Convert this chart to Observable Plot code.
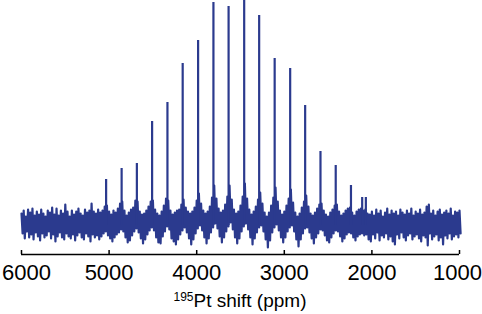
<!DOCTYPE html>
<html><head><meta charset="utf-8">
<script src="https://cdn.jsdelivr.net/npm/d3@7"></script>
<script src="https://cdn.jsdelivr.net/npm/@observablehq/plot@0.6"></script>
<style>html,body{margin:0;padding:0;background:#fff;} #chart svg{display:block}</style>
</head><body><div id="chart"></div>
<script>
// x-axis ticks (ppm)
const xTicks = [6000, 5000, 4000, 3000, 2000, 1000];

// spinning sideband peaks: position (ppm) and apex intensity (a.u., baseline = 0)
const peakPpm    = [5034, 4857, 4683, 4509, 4334, 4160, 3984, 3809, 3636, 3458, 3287, 3110, 2933, 2762, 2587, 2413, 2239, 2111, 2069];
const peakHeight = [  46,   57,   62,  104,  123,  162,  185,  223,  219,  225,  210,  167,  157,  120,   74,   60,   40,   28,   28];

// noisy baseline: upper and lower excursions, sampled every 25 ppm from 6000 down to 1000 ppm
const noiseStartPpm = 6000;
const noiseStepPpm = 25;
const noiseUpper = [
  12,15,9,16,13,17,10,14,11,16, 12,9,15,13,18,11,17,10,15,12, 21,14,9,15,11,14,17,12,10,16, 13,15,22,14,12,16,
  13,15,19,20,14,11,15,13,17,22, 24,15,10,13,16,18,25,24,14,11, 12,15,19,24,25,16,12,10,14,20, 27,25,15,11,13,
  15,16,21,26,18,14,12, 14,18,25,32,22,15,12, 14,19,28,40,27,17,13, 15,21,29,40,26,16,12,
  14,20,29,42,27,16,11, 14,19,26,33,22,13,9, 13,20,28,38,24,15,11, 14,20,27,36,23,13,9,
  12,18,24,30,19,12,10, 13,17,21,22,15,11,9, 13,16,20,21,14,10,12, 15,17,18,13,10,14,16, 17,15,16,12,11,
  14,10,16,12,15,9,13,17,11,15, 12,14,10,16,13,11,15,12,17,10, 14,12,16,11,13,19,21,12,15,10, 14,16,11,13,15,12,17,10,14,13, 15
];
const noiseLower = [
  -8,-13,-6,-12,-9,-14,-7,-11,-15,-8, -12,-10,-6,-13,-9,-16,-11,-7,-12,-14, -8,-11,-13,-9,-15,-10,-7,-12,-14,-8, -11,-16,-9,-12,-10,-14,
  -11,-8,-6,-10,-13,-16,-12,-9,-7,-4, -6,-12,-17,-15,-10,-6,-3,-7,-13,-18, -14,-9,-5,-2,-5,-12,-17,-18,-11,-6, -1,-4,-13,-16,-19,
  -14,-9,-5,-2,-7,-13,-19, -14,-8,-3,0,-5,-12,-18, -13,-7,-2,2,-3,-11,-17, -12,-6,-1,3,-4,-12,-18,
  -13,-6,-1,2,-4,-12,-19, -13,-7,-2,0,-6,-14,-22, -15,-7,-2,1,-5,-12,-17, -12,-6,-2,0,-6,-14,-21,
  -14,-8,-3,-2,-7,-13,-18, -12,-8,-4,-5,-10,-15,-17, -12,-8,-5,-6,-11,-16,-13, -9,-7,-8,-12,-15,-11,-9, -8,-10,-9,-14,-16,
  -9,-13,-7,-15,-10,-12,-8,-14,-11,-16, -19,-9,-13,-7,-12,-15,-10,-8,-14,-11, -9,-13,-16,-10,-12,-20,-8,-14,-11,-9, -15,-12,-19,-10,-13,-8,-14,-11,-9,-12, -8
];

const traceColor = "#2b3a8e";
const yDomain = [-29, 225];
const fontFamily = "'Liberation Sans', Arial, sans-serif";

// trace: each sample contributes its upper excursion, then its lower excursion half a step later
const trace = noiseUpper.flatMap((u, i) => {
  const p = noiseStartPpm - i * noiseStepPpm;
  return [{ppm: p, v: u}, {ppm: p - noiseStepPpm / 2, v: noiseLower[i]}];
});
const peaks = peakPpm.map((p, i) => ({ppm: p, height: peakHeight[i]}));

const middleTicks = xTicks.slice(1, -1);
const axisText = {tickSize: 0, tickPadding: 10, tickFormat: d => String(d), fontSize: 22, label: null, fill: "#000"};

const chart = Plot.plot({
  width: 482, height: 314,
  marginTop: 0, marginBottom: 60, marginLeft: 21, marginRight: 23,
  style: {fontFamily, fontSize: "22px", color: "#000", background: "#fff", overflow: "visible"},
  x: {domain: [6000, 1000]},
  y: {domain: yDomain, axis: null},
  marks: [
    Plot.line(trace, {x: "ppm", y: "v", stroke: traceColor, strokeWidth: 2.2, strokeLinejoin: "round"}),
    Plot.ruleX(peaks, {x: "ppm", y1: 0, y2: "height", stroke: traceColor, strokeWidth: 2.2}),
    Plot.ruleY([yDomain[0]], {stroke: "#000", strokeWidth: 1.5}),
    Plot.ruleX(xTicks, {insetTop: 250, stroke: "#000", strokeWidth: 1.5}),
    Plot.axisX(middleTicks, axisText),
    Plot.axisX([xTicks[0]], {...axisText, dx: 5}),
    Plot.axisX([xTicks[xTicks.length - 1]], {...axisText, dx: -2})
  ]
});
document.getElementById("chart").appendChild(chart);

const xs = chart.scale("x");
const t = d3.select(chart).append("text")
  .attr("x", (xs.apply(6000) + xs.apply(1000)) / 2)
  .attr("y", 307)
  .attr("text-anchor", "middle")
  .attr("font-family", fontFamily)
  .attr("font-size", 19)
  .attr("fill", "#000");
t.append("tspan").attr("font-size", 12).attr("dy", -6).text("195");
t.append("tspan").attr("dy", 6).text("Pt shift (ppm)");
</script>
</body></html>
